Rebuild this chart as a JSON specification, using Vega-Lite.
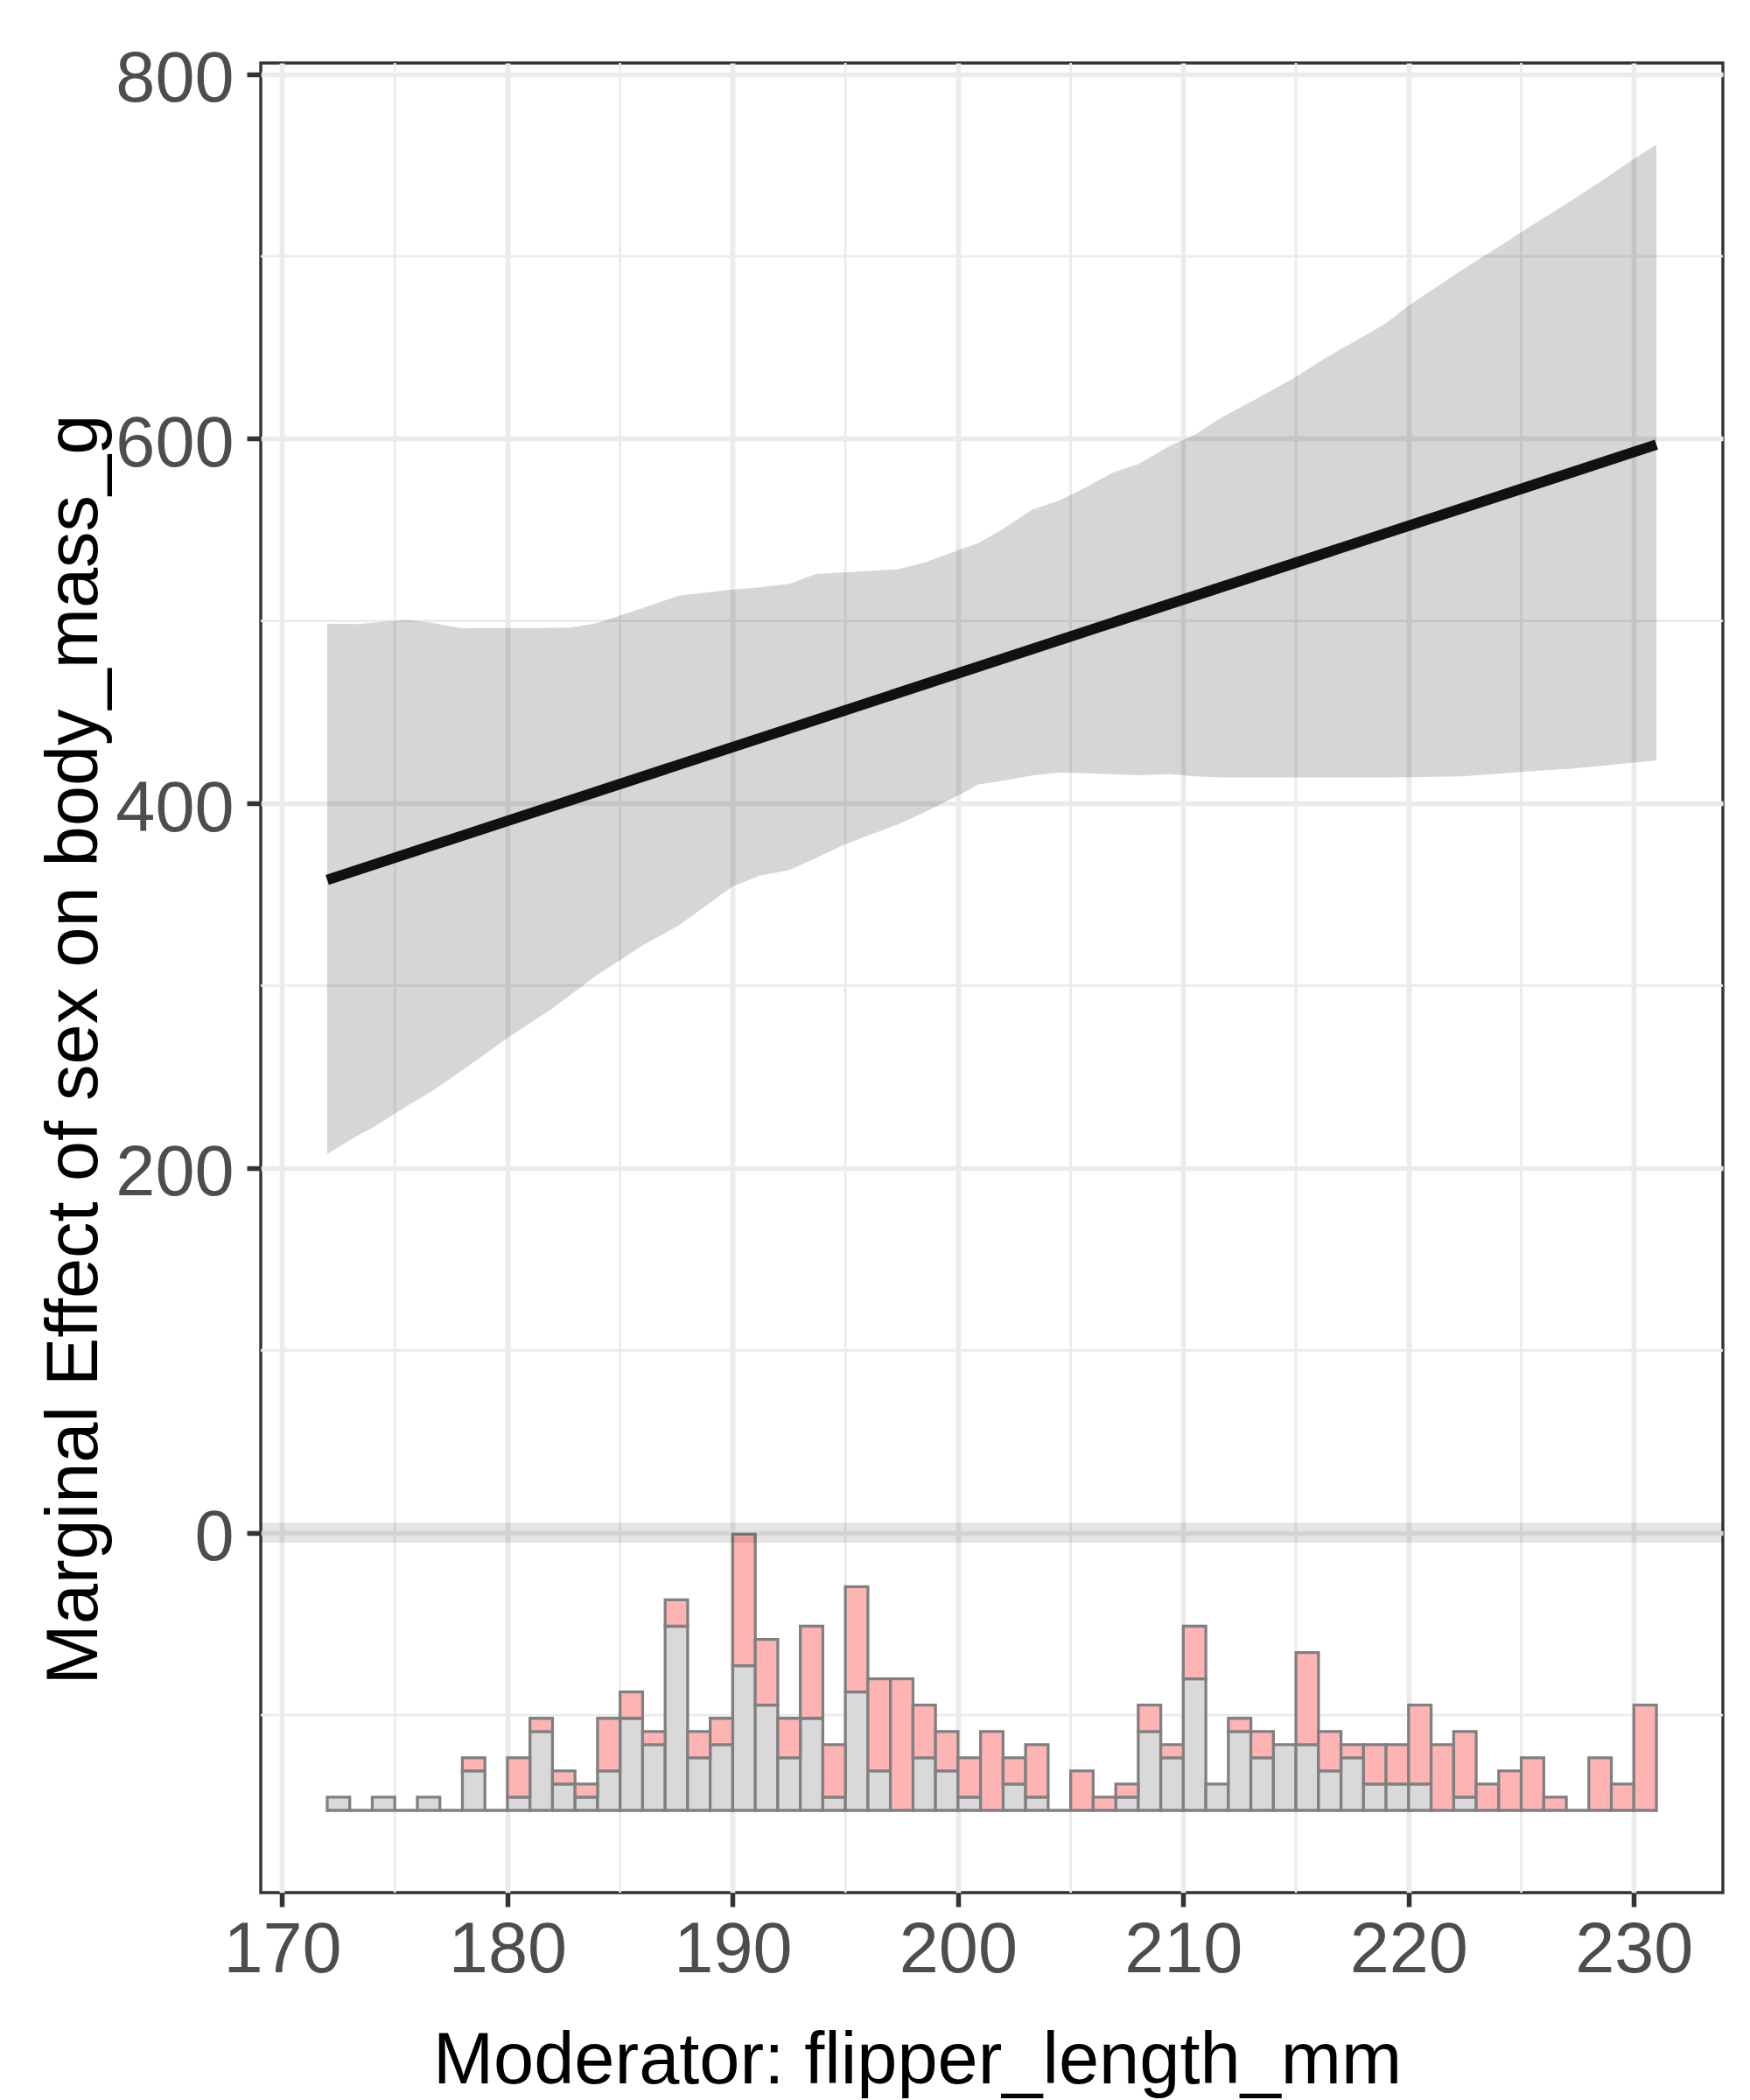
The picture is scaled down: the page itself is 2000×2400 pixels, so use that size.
{
  "$schema": "https://vega.github.io/schema/vega-lite/v6.json",
  "width": 1671,
  "height": 2091,
  "autosize": {"type": "none"},
  "padding": {"left": 298, "top": 72, "right": 31, "bottom": 237},
  "background": "white",
  "datasets": {
    "ribbon": [
      {"flipper_length_mm": 172, "lower": 207.6, "upper": 498.5},
      {"flipper_length_mm": 173.3, "lower": 217.5, "upper": 498.3},
      {"flipper_length_mm": 174, "lower": 222, "upper": 499},
      {"flipper_length_mm": 175.5, "lower": 233.7, "upper": 500.6},
      {"flipper_length_mm": 176.5, "lower": 241, "upper": 499.2},
      {"flipper_length_mm": 178, "lower": 253.5, "upper": 496},
      {"flipper_length_mm": 180, "lower": 271.3, "upper": 496.1},
      {"flipper_length_mm": 182, "lower": 287.5, "upper": 496.3},
      {"flipper_length_mm": 182.8, "lower": 295, "upper": 496.4},
      {"flipper_length_mm": 184, "lower": 306, "upper": 498.9},
      {"flipper_length_mm": 186, "lower": 322, "upper": 507},
      {"flipper_length_mm": 187.6, "lower": 333, "upper": 513.9},
      {"flipper_length_mm": 190, "lower": 354.5, "upper": 517.3},
      {"flipper_length_mm": 191.2, "lower": 360.3, "upper": 518.5},
      {"flipper_length_mm": 192.5, "lower": 363.3, "upper": 520.3},
      {"flipper_length_mm": 193.7, "lower": 370, "upper": 525.7},
      {"flipper_length_mm": 195, "lower": 377.6, "upper": 526.7},
      {"flipper_length_mm": 197.3, "lower": 388.3, "upper": 528.3},
      {"flipper_length_mm": 198.5, "lower": 395, "upper": 532},
      {"flipper_length_mm": 200.2, "lower": 405.5, "upper": 539.7},
      {"flipper_length_mm": 200.9, "lower": 410.4, "upper": 542.7},
      {"flipper_length_mm": 202, "lower": 412.4, "upper": 550.5},
      {"flipper_length_mm": 203.3, "lower": 415.3, "upper": 561.2},
      {"flipper_length_mm": 204.5, "lower": 416.8, "upper": 566.1},
      {"flipper_length_mm": 205.7, "lower": 416.5, "upper": 573.4},
      {"flipper_length_mm": 206.8, "lower": 416, "upper": 581},
      {"flipper_length_mm": 208, "lower": 415.4, "upper": 586},
      {"flipper_length_mm": 209.4, "lower": 416, "upper": 596},
      {"flipper_length_mm": 210.5, "lower": 414.8, "upper": 602},
      {"flipper_length_mm": 211.7, "lower": 414.2, "upper": 611.6},
      {"flipper_length_mm": 213, "lower": 414.2, "upper": 620.2},
      {"flipper_length_mm": 215, "lower": 414.2, "upper": 633.9},
      {"flipper_length_mm": 216.3, "lower": 414.2, "upper": 644.2},
      {"flipper_length_mm": 218.2, "lower": 414.2, "upper": 657.5},
      {"flipper_length_mm": 219, "lower": 414.2, "upper": 663.4},
      {"flipper_length_mm": 220, "lower": 414.3, "upper": 673},
      {"flipper_length_mm": 222.4, "lower": 414.8, "upper": 692.8},
      {"flipper_length_mm": 224, "lower": 416.2, "upper": 705.2},
      {"flipper_length_mm": 225.4, "lower": 417.6, "upper": 716.4},
      {"flipper_length_mm": 227.1, "lower": 418.9, "upper": 729.6},
      {"flipper_length_mm": 228.6, "lower": 420.5, "upper": 741.6},
      {"flipper_length_mm": 229.9, "lower": 422.2, "upper": 752.6},
      {"flipper_length_mm": 231, "lower": 423.4, "upper": 761.2}
    ],
    "estimate": [
      {"flipper_length_mm": 172, "effect": 358},
      {"flipper_length_mm": 231, "effect": 596.7}
    ],
    "minor_x": [
      {"flipper_length_mm": 175}, {"flipper_length_mm": 185}, {"flipper_length_mm": 195},
      {"flipper_length_mm": 205}, {"flipper_length_mm": 215}, {"flipper_length_mm": 225}
    ],
    "minor_y": [
      {"effect": -100}, {"effect": 100}, {"effect": 300}, {"effect": 500}, {"effect": 700}
    ],
    "hist": [
      {"flipper_length_mm": 172, "bin_end": 173, "sex": "female", "count": 1},
      {"flipper_length_mm": 173, "bin_end": 174, "sex": "female", "count": 0},
      {"flipper_length_mm": 174, "bin_end": 175, "sex": "female", "count": 1},
      {"flipper_length_mm": 175, "bin_end": 176, "sex": "female", "count": 0},
      {"flipper_length_mm": 176, "bin_end": 177, "sex": "female", "count": 1},
      {"flipper_length_mm": 177, "bin_end": 178, "sex": "female", "count": 0},
      {"flipper_length_mm": 178, "bin_end": 179, "sex": "female", "count": 3},
      {"flipper_length_mm": 179, "bin_end": 180, "sex": "female", "count": 0},
      {"flipper_length_mm": 180, "bin_end": 181, "sex": "female", "count": 1},
      {"flipper_length_mm": 181, "bin_end": 182, "sex": "female", "count": 6},
      {"flipper_length_mm": 182, "bin_end": 183, "sex": "female", "count": 2},
      {"flipper_length_mm": 183, "bin_end": 184, "sex": "female", "count": 1},
      {"flipper_length_mm": 184, "bin_end": 185, "sex": "female", "count": 3},
      {"flipper_length_mm": 185, "bin_end": 186, "sex": "female", "count": 7},
      {"flipper_length_mm": 186, "bin_end": 187, "sex": "female", "count": 5},
      {"flipper_length_mm": 187, "bin_end": 188, "sex": "female", "count": 14},
      {"flipper_length_mm": 188, "bin_end": 189, "sex": "female", "count": 4},
      {"flipper_length_mm": 189, "bin_end": 190, "sex": "female", "count": 5},
      {"flipper_length_mm": 190, "bin_end": 191, "sex": "female", "count": 11},
      {"flipper_length_mm": 191, "bin_end": 192, "sex": "female", "count": 8},
      {"flipper_length_mm": 192, "bin_end": 193, "sex": "female", "count": 4},
      {"flipper_length_mm": 193, "bin_end": 194, "sex": "female", "count": 7},
      {"flipper_length_mm": 194, "bin_end": 195, "sex": "female", "count": 1},
      {"flipper_length_mm": 195, "bin_end": 196, "sex": "female", "count": 9},
      {"flipper_length_mm": 196, "bin_end": 197, "sex": "female", "count": 3},
      {"flipper_length_mm": 198, "bin_end": 199, "sex": "female", "count": 4},
      {"flipper_length_mm": 199, "bin_end": 200, "sex": "female", "count": 3},
      {"flipper_length_mm": 200, "bin_end": 201, "sex": "female", "count": 1},
      {"flipper_length_mm": 202, "bin_end": 203, "sex": "female", "count": 2},
      {"flipper_length_mm": 203, "bin_end": 204, "sex": "female", "count": 1},
      {"flipper_length_mm": 204, "bin_end": 205, "sex": "female", "count": 0},
      {"flipper_length_mm": 207, "bin_end": 208, "sex": "female", "count": 1},
      {"flipper_length_mm": 208, "bin_end": 209, "sex": "female", "count": 6},
      {"flipper_length_mm": 209, "bin_end": 210, "sex": "female", "count": 4},
      {"flipper_length_mm": 210, "bin_end": 211, "sex": "female", "count": 10},
      {"flipper_length_mm": 211, "bin_end": 212, "sex": "female", "count": 2},
      {"flipper_length_mm": 212, "bin_end": 213, "sex": "female", "count": 6},
      {"flipper_length_mm": 213, "bin_end": 214, "sex": "female", "count": 4},
      {"flipper_length_mm": 214, "bin_end": 215, "sex": "female", "count": 5},
      {"flipper_length_mm": 215, "bin_end": 216, "sex": "female", "count": 5},
      {"flipper_length_mm": 216, "bin_end": 217, "sex": "female", "count": 3},
      {"flipper_length_mm": 217, "bin_end": 218, "sex": "female", "count": 4},
      {"flipper_length_mm": 218, "bin_end": 219, "sex": "female", "count": 2},
      {"flipper_length_mm": 219, "bin_end": 220, "sex": "female", "count": 2},
      {"flipper_length_mm": 220, "bin_end": 221, "sex": "female", "count": 2},
      {"flipper_length_mm": 222, "bin_end": 223, "sex": "female", "count": 1},
      {"flipper_length_mm": 227, "bin_end": 228, "sex": "female", "count": 0},
      {"flipper_length_mm": 178, "bin_end": 179, "sex": "male", "count": 1},
      {"flipper_length_mm": 180, "bin_end": 181, "sex": "male", "count": 3},
      {"flipper_length_mm": 181, "bin_end": 182, "sex": "male", "count": 1},
      {"flipper_length_mm": 182, "bin_end": 183, "sex": "male", "count": 1},
      {"flipper_length_mm": 183, "bin_end": 184, "sex": "male", "count": 1},
      {"flipper_length_mm": 184, "bin_end": 185, "sex": "male", "count": 4},
      {"flipper_length_mm": 185, "bin_end": 186, "sex": "male", "count": 2},
      {"flipper_length_mm": 186, "bin_end": 187, "sex": "male", "count": 1},
      {"flipper_length_mm": 187, "bin_end": 188, "sex": "male", "count": 2},
      {"flipper_length_mm": 188, "bin_end": 189, "sex": "male", "count": 2},
      {"flipper_length_mm": 189, "bin_end": 190, "sex": "male", "count": 2},
      {"flipper_length_mm": 190, "bin_end": 191, "sex": "male", "count": 10},
      {"flipper_length_mm": 191, "bin_end": 192, "sex": "male", "count": 5},
      {"flipper_length_mm": 192, "bin_end": 193, "sex": "male", "count": 3},
      {"flipper_length_mm": 193, "bin_end": 194, "sex": "male", "count": 7},
      {"flipper_length_mm": 194, "bin_end": 195, "sex": "male", "count": 4},
      {"flipper_length_mm": 195, "bin_end": 196, "sex": "male", "count": 8},
      {"flipper_length_mm": 196, "bin_end": 197, "sex": "male", "count": 7},
      {"flipper_length_mm": 197, "bin_end": 198, "sex": "male", "count": 10},
      {"flipper_length_mm": 198, "bin_end": 199, "sex": "male", "count": 4},
      {"flipper_length_mm": 199, "bin_end": 200, "sex": "male", "count": 3},
      {"flipper_length_mm": 200, "bin_end": 201, "sex": "male", "count": 3},
      {"flipper_length_mm": 201, "bin_end": 202, "sex": "male", "count": 6},
      {"flipper_length_mm": 202, "bin_end": 203, "sex": "male", "count": 2},
      {"flipper_length_mm": 203, "bin_end": 204, "sex": "male", "count": 4},
      {"flipper_length_mm": 205, "bin_end": 206, "sex": "male", "count": 3},
      {"flipper_length_mm": 206, "bin_end": 207, "sex": "male", "count": 1},
      {"flipper_length_mm": 207, "bin_end": 208, "sex": "male", "count": 1},
      {"flipper_length_mm": 208, "bin_end": 209, "sex": "male", "count": 2},
      {"flipper_length_mm": 209, "bin_end": 210, "sex": "male", "count": 1},
      {"flipper_length_mm": 210, "bin_end": 211, "sex": "male", "count": 4},
      {"flipper_length_mm": 212, "bin_end": 213, "sex": "male", "count": 1},
      {"flipper_length_mm": 213, "bin_end": 214, "sex": "male", "count": 2},
      {"flipper_length_mm": 215, "bin_end": 216, "sex": "male", "count": 7},
      {"flipper_length_mm": 216, "bin_end": 217, "sex": "male", "count": 3},
      {"flipper_length_mm": 217, "bin_end": 218, "sex": "male", "count": 1},
      {"flipper_length_mm": 218, "bin_end": 219, "sex": "male", "count": 3},
      {"flipper_length_mm": 219, "bin_end": 220, "sex": "male", "count": 3},
      {"flipper_length_mm": 220, "bin_end": 221, "sex": "male", "count": 6},
      {"flipper_length_mm": 221, "bin_end": 222, "sex": "male", "count": 5},
      {"flipper_length_mm": 222, "bin_end": 223, "sex": "male", "count": 5},
      {"flipper_length_mm": 223, "bin_end": 224, "sex": "male", "count": 2},
      {"flipper_length_mm": 224, "bin_end": 225, "sex": "male", "count": 3},
      {"flipper_length_mm": 225, "bin_end": 226, "sex": "male", "count": 4},
      {"flipper_length_mm": 226, "bin_end": 227, "sex": "male", "count": 1},
      {"flipper_length_mm": 228, "bin_end": 229, "sex": "male", "count": 4},
      {"flipper_length_mm": 229, "bin_end": 230, "sex": "male", "count": 2},
      {"flipper_length_mm": 230, "bin_end": 231, "sex": "male", "count": 8}
    ],
    "zero": [{"effect": 0}]
  },
  "layer": [
    {
      "layer": [
        {
          "data": {"name": "minor_x"},
          "mark": {"type": "rule", "color": "#EBEBEB", "strokeWidth": 2.8},
          "encoding": {
            "x": {"field": "flipper_length_mm", "type": "quantitative", "title": "Moderator: flipper_length_mm", "scale": {"domain": [169.05, 233.95], "nice": false, "zero": false}}
          }
        },
        {
          "data": {"name": "minor_y"},
          "mark": {"type": "rule", "color": "#EBEBEB", "strokeWidth": 2.8},
          "encoding": {
            "y": {"field": "effect", "type": "quantitative", "title": "Marginal Effect of sex on body_mass_g", "scale": {"domain": [-197.4, 806], "nice": false, "zero": false}}
          }
        },
        {
          "data": {"name": "ribbon"},
          "mark": {"type": "area", "color": "#000000", "opacity": 0.16},
          "encoding": {
            "x": {
              "field": "flipper_length_mm", "type": "quantitative",
              "title": "Moderator: flipper_length_mm",
              "scale": {"domain": [169.05, 233.95], "nice": false, "zero": false},
              "axis": {
                "values": [170, 180, 190, 200, 210, 220, 230],
                "grid": true, "labelPadding": 10, "labelFlush": false,
                "titleX": 750, "titleY": 217, "titleBaseline": "alphabetic", "titleAlign": "center"
              }
            },
            "y": {
              "field": "lower", "type": "quantitative",
              "title": "Marginal Effect of sex on body_mass_g",
              "scale": {"domain": [-197.4, 806], "nice": false, "zero": false},
              "axis": {
                "values": [0, 200, 400, 600, 800],
                "grid": true, "labelPadding": 15, "labelOffset": 7,
                "titleX": -188, "titleY": 1127, "titleAngle": 270, "titleBaseline": "alphabetic", "titleAlign": "center"
              }
            },
            "y2": {"field": "upper"}
          }
        },
        {
          "data": {"name": "estimate"},
          "mark": {"type": "line", "color": "#111111", "strokeWidth": 12, "strokeCap": "butt"},
          "encoding": {
            "x": {"field": "flipper_length_mm", "type": "quantitative", "title": "Moderator: flipper_length_mm", "scale": {"domain": [169.05, 233.95], "nice": false, "zero": false}},
            "y": {"field": "effect", "type": "quantitative", "title": "Marginal Effect of sex on body_mass_g", "scale": {"domain": [-197.4, 806], "nice": false, "zero": false}}
          }
        }
      ]
    },
    {
      "data": {"name": "hist"},
      "transform": [
        {"stack": "count", "groupby": ["flipper_length_mm"], "sort": [{"field": "sex", "order": "ascending"}], "as": ["count_lo", "count_hi"]}
      ],
      "mark": {"type": "rect", "stroke": "#808080", "strokeWidth": 3.3, "opacity": 1},
      "encoding": {
        "x": {"field": "flipper_length_mm", "type": "quantitative", "title": "Moderator: flipper_length_mm", "scale": {"domain": [169.05, 233.95], "nice": false, "zero": false}},
        "x2": {"field": "bin_end"},
        "y": {"field": "count_lo", "type": "quantitative", "scale": {"domain": [-6.254, 132.84], "nice": false, "zero": false}, "axis": null},
        "y2": {"field": "count_hi"},
        "color": {"field": "sex", "type": "nominal", "scale": {"domain": ["female", "male"], "range": ["#D9D9D9", "#FFB4B4"]}, "legend": null}
      }
    },
    {
      "data": {"name": "zero"},
      "mark": {"type": "rule", "color": "#000000", "opacity": 0.1, "strokeWidth": 23},
      "encoding": {
        "y": {"field": "effect", "type": "quantitative", "scale": {"domain": [-197.4, 806], "nice": false, "zero": false}, "axis": null}
      }
    }
  ],
  "resolve": {"scale": {"y": "independent"}},
  "config": {
    "font": "Liberation Sans",
    "view": {"stroke": "#333333", "strokeWidth": 3.4},
    "axis": {
      "domain": false,
      "tickColor": "#333333",
      "tickWidth": 5.5,
      "tickSize": 16,
      "labelColor": "#4D4D4D",
      "labelFont": "Liberation Sans",
      "labelFontSize": 81,
      "titleFont": "Liberation Sans",
      "titleFontSize": 83,
      "titleFontWeight": "normal",
      "titleColor": "#000000",
      "gridColor": "#EBEBEB",
      "gridWidth": 5.7
    }
  }
}
